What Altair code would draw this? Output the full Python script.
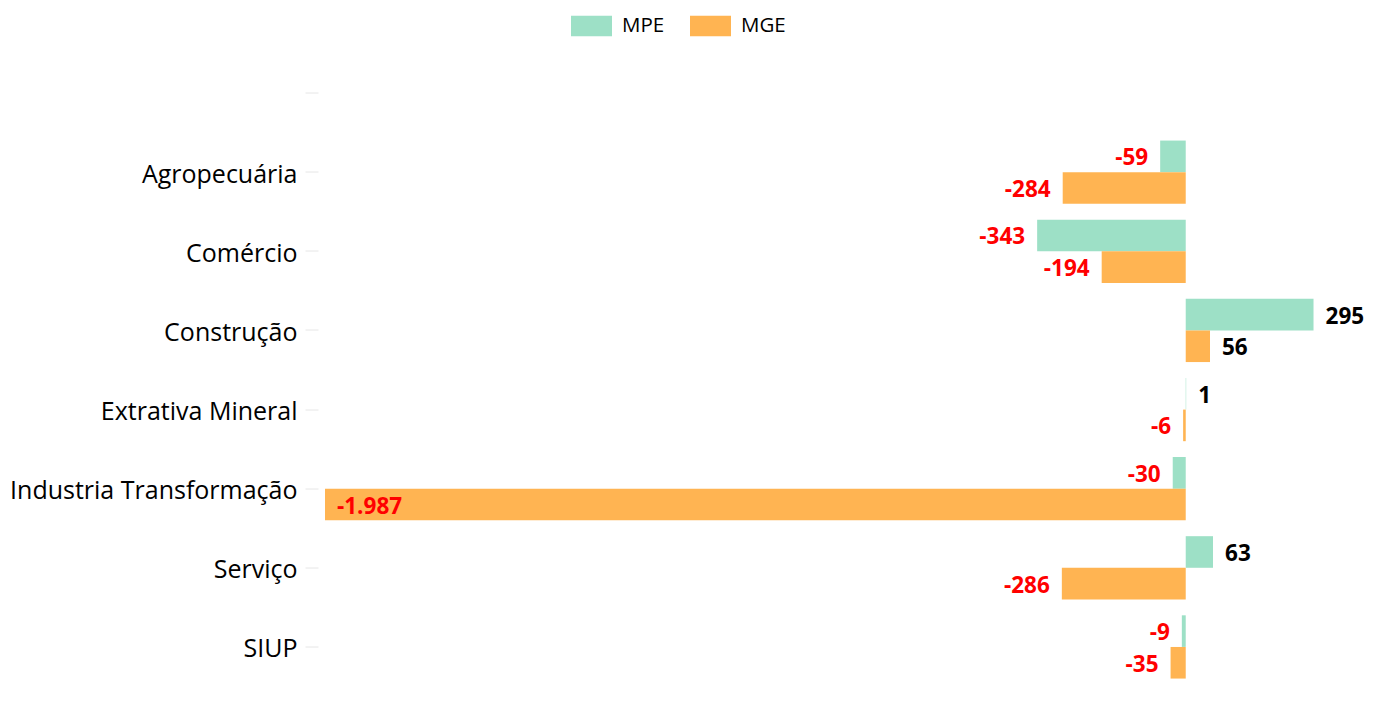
import altair as alt
import pandas as pd

categories = ["Agropecuária", "Comércio", "Construção", "Extrativa Mineral",
              "Industria Transformação", "Serviço", "SIUP"]
mpe = [-59, -343, 295, 1, -30, 63, -9]
mge = [-284, -194, 56, -6, -1987, -286, -35]
series = ["MPE", "MGE"]
colors = ["#9DE0C6", "#FFB452"]

rows = []
for c, a, b in zip(categories, mpe, mge):
    rows.append({"cat": c, "serie": "MPE", "v": a})
    rows.append({"cat": c, "serie": "MGE", "v": b})
df = pd.DataFrame(rows)

FONT = "Open Sans"
ydomain = [" "] + categories

y = alt.Y("cat:N", scale=alt.Scale(domain=ydomain, paddingInner=0.2, paddingOuter=0.1),
          axis=alt.Axis(title=None, domain=False, ticks=True, tickSize=13, tickColor="#E6E6E6",
                        tickWidth=1, offset=7, labelPadding=8, labelFontSize=25,
                        labelFont=FONT, labelColor="#000000", grid=False, labelLimit=0,
                        labelOffset=2.5))
yoff = alt.YOffset("serie:N", scale=alt.Scale(domain=series, paddingInner=0, paddingOuter=0))
xscale = alt.Scale(domain=[-1987, 400], nice=False, zero=True)
x = alt.X("v:Q", scale=xscale, axis=None)

base = alt.Chart(df)

bars = base.mark_bar(size=31.6).encode(
    y=y, yOffset=yoff, x=x, x2=alt.datum(0),
    color=alt.Color("serie:N", scale=alt.Scale(domain=series, range=colors),
                    legend=alt.Legend(title=None, orient="none", direction="horizontal",
                                      legendX=246, legendY=-48,
                                      symbolType="M-1,-0.5H1V0.5H-1Z", symbolSize=1681,
                                      symbolStrokeWidth=0, labelFontSize=20.5, labelFont=FONT,
                                      labelColor="#000000", labelOffset=10, columnPadding=25,
                                      symbolOpacity=1)),
)

lab = base.transform_calculate(
    lbl="replace(replace(format(datum.v, ','), ',', '.'), '\u2212', '-')"
)
txt_kw = dict(fontSize=22.5, fontWeight="bold", font=FONT, baseline="middle", dy=2)
pos = lab.transform_filter("datum.v >= 0").mark_text(align="left", dx=12, color="#000000", **txt_kw).encode(
    y=y, yOffset=yoff, x=x, text="lbl:N")
neg = lab.transform_filter("datum.v < 0 && datum.v > -1500").mark_text(align="right", dx=-12, color="#FF0000", **txt_kw).encode(
    y=y, yOffset=yoff, x=x, text="lbl:N")
inside = lab.transform_filter("datum.v <= -1500").mark_text(align="left", dx=12, color="#FF0000", **txt_kw).encode(
    y=y, yOffset=yoff, x=x, text="lbl:N")

chart = alt.layer(bars, pos, neg, inside).properties(
    width=1034, height=633,
    autosize=alt.AutoSizeParams(type="none"),
    padding={"left": 317, "top": 45.5, "right": 10, "bottom": 10},
    background="white",
).configure_view(stroke=None)

chart.save("out.html", embed_options={"renderer": "svg", "actions": False})
